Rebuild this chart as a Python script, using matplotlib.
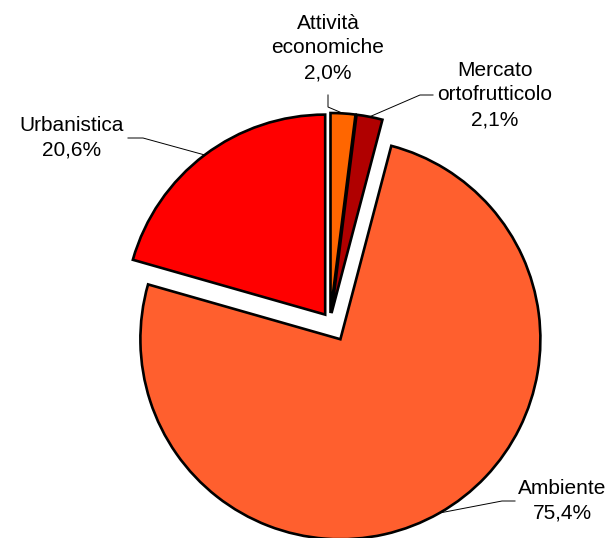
import numpy as np
import matplotlib.pyplot as plt

# Data
labels = ['Attività\neconomiche', 'Mercato\nortofrutticolo', 'Ambiente', 'Urbanistica']
values = [2.0, 2.1, 75.4, 20.6]
colors = ['#FF6600', '#B00000', '#FF5F2E', '#FF0000']
explode = [0.04, 0.04, 0.105, 0.04]

# label text centres and elbow points, in pixels from the top-left corner
text_pos = [(328, 48), (495, 95), (562, 501), (72, 138)]
line_start = [(328, 95), (433, 95), (515, 501), (128, 138)]
elbow = [(328, 107), (420, 95), (502, 501), (143, 138)]

W, H = 614, 538
cx, cy, R = 330, 321, 200

fig = plt.figure(figsize=(W / 100, H / 100), dpi=100)
ax = fig.add_axes([0, 0, 1, 1])

wedges, _ = ax.pie(values, colors=colors, explode=explode, startangle=90,
                   counterclock=False, radius=1,
                   wedgeprops=dict(edgecolor='black', linewidth=1.9))

ax.set_xlim(-cx / R, (W - cx) / R)
ax.set_ylim(-(H - cy) / R, cy / R)
ax.set_aspect('auto')
ax.axis('off')


def px(x, y):
    return (x - cx) / R, (cy - y) / R


for w, lab, v, tp, ls, el in zip(wedges, labels, values, text_pos, line_start, elbow):
    mid = np.deg2rad((w.theta1 + w.theta2) / 2)
    ax_, ay_ = w.center[0] + w.r * np.cos(mid), w.center[1] + w.r * np.sin(mid)
    p0, p1 = px(*ls), px(*el)
    ax.plot([p0[0], p1[0], ax_], [p0[1], p1[1], ay_], color='black', lw=0.7)
    tx, ty = px(*tp)
    txt = lab + '\n' + f'{v:.1f}%'.replace('.', ',')
    ax.text(tx, ty, txt, ha='center', va='center', fontsize=15,
            family='Liberation Sans', linespacing=1.38)

fig.savefig('out.png', dpi=100)
